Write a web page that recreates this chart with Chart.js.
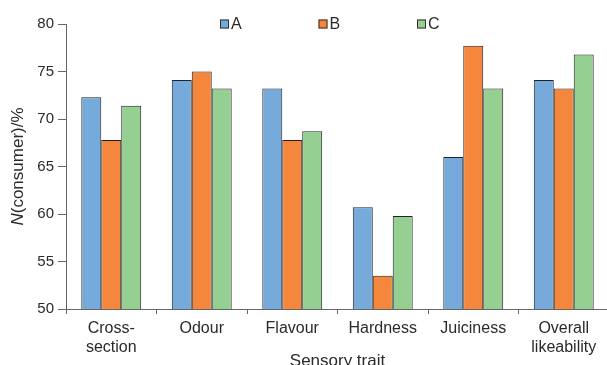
<!DOCTYPE html>
<html>
<head>
<meta charset="utf-8">
<script src="https://cdn.jsdelivr.net/npm/chart.js@4"></script>
<style>
  html, body { margin: 0; padding: 0; background: #fff; overflow: hidden; }
  #wrap { width: 607px; height: 365px; overflow: hidden; }
</style>
</head>
<body>
<div id="wrap"><canvas id="myChart" width="612" height="375"></canvas></div>
<script>
'use strict'

// categories and series
const traits = [['Cross-', 'section'], 'Odour', 'Flavour', 'Hardness', 'Juiciness', ['Overall', 'likeability']]
const seriesA = [72.3, 74.1, 73.2, 60.7, 66.0, 74.1]
const seriesB = [67.8, 75.0, 67.8, 53.5, 77.7, 73.2]
const seriesC = [71.4, 73.2, 68.7, 59.8, 73.2, 76.8]
const yTicks = [50, 55, 60, 65, 70, 75, 80]

const FONT = 'Liberation Sans, Arial, sans-serif'
const TXT = '#2a2a2a'
const AXIS = '#666'

const colours = { A: '#76aadb', B: '#f5873d', C: '#95cf91' }

// legend spread along the top of the plot, plus y title with italic N
const extras = {
	id: 'extras',
	afterDraw(chart) {
		const ctx = chart.ctx
		const area = chart.chartArea
		ctx.save()

		// legend
		ctx.font = '16px ' + FONT
		ctx.textBaseline = 'middle'
		chart.data.datasets.forEach((ds, i) => {
			const x = area.left + 154 + i * 98.5
			const y = area.top
			ctx.fillStyle = ds.backgroundColor
			ctx.fillRect(x, y - 4.5, 9, 9)
			ctx.strokeStyle = '#333'
			ctx.lineWidth = 1
			ctx.strokeRect(x + 0.5, y - 4, 8, 8)
			ctx.fillStyle = TXT
			ctx.textAlign = 'left'
			ctx.fillText(ds.label, x + 11, y + 1)
		})

		// y title
		ctx.translate(18, (area.top + area.bottom) / 2)
		ctx.rotate(-Math.PI / 2)
		const a = 'N', b = '(consumer)/%'
		ctx.font = 'italic 17px ' + FONT
		const wa = ctx.measureText(a).width
		ctx.font = '17px ' + FONT
		const wb = ctx.measureText(b).width
		const x0 = -(wa + wb) / 2
		ctx.textAlign = 'left'
		ctx.fillStyle = TXT
		ctx.font = 'italic 17px ' + FONT
		ctx.fillText(a, x0, 0)
		ctx.font = '17px ' + FONT
		ctx.fillText(b, x0 + wa, 0)
		ctx.restore()
	}
}

const chartElement = document.querySelector('#myChart')
const chart = new Chart(chartElement, {
	type: 'bar',
	data: {
		labels: traits,
		datasets: [
			{ label: 'A', data: seriesA, backgroundColor: colours.A },
			{ label: 'B', data: seriesB, backgroundColor: colours.B },
			{ label: 'C', data: seriesC, backgroundColor: colours.C }
		].map(d => Object.assign(d, {
			borderColor: '#222',
			borderWidth: 1,
			categoryPercentage: 0.662,
			barPercentage: 1
		}))
	},
	options: {
		responsive: false,
		animation: false,
		layout: { padding: { top: 24, right: 3, left: 0, bottom: 0 } },
		plugins: {
			legend: { display: false },
			tooltip: { enabled: false }
		},
		scales: {
			x: {
				offset: true,
				border: { color: AXIS },
				grid: { display: true, drawOnChartArea: false, offset: true, tickLength: 5, color: AXIS },
				ticks: { color: TXT, font: { family: FONT, size: 16 }, padding: 5, maxRotation: 0, autoSkip: false },
				title: { display: true, text: 'Sensory trait', color: TXT, font: { family: FONT, size: 17 }, padding: { top: 0, bottom: 3 } },
				afterFit: s => { s.height = 375 - 309 }
			},
			y: {
				min: 50,
				max: 80,
				afterBuildTicks: s => { s.ticks = yTicks.map(v => ({ value: v })) },
				border: { color: AXIS },
				grid: { drawOnChartArea: false, tickLength: 8, color: AXIS },
				ticks: { color: TXT, font: { family: FONT, size: 15 }, padding: 4 },
				afterFit: s => { s.width = 66 }
			}
		}
	},
	plugins: [extras]
})
</script>
</body>
</html>
